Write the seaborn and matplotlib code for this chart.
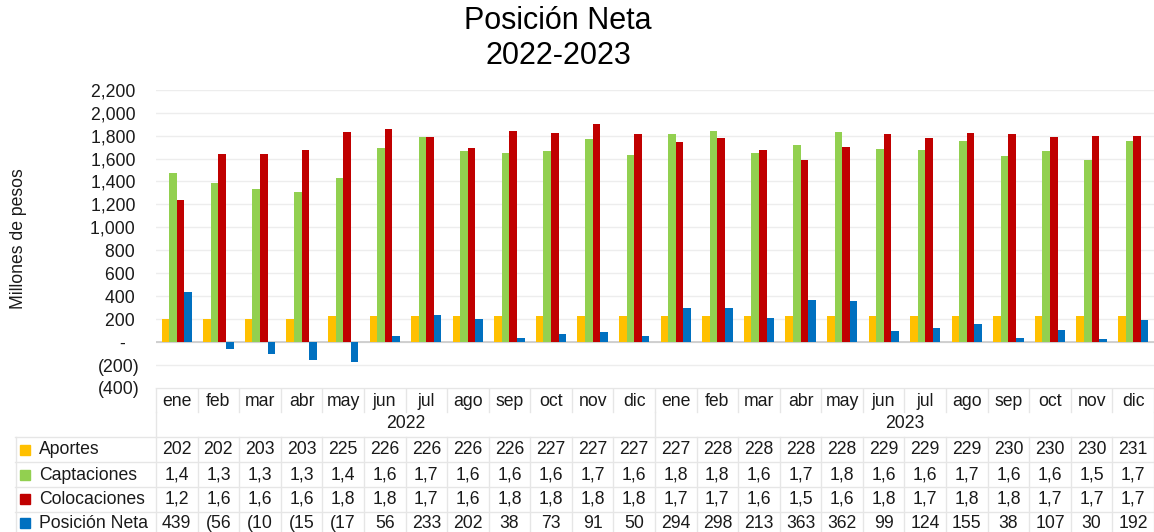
import numpy as np
import pandas as pd
import matplotlib
matplotlib.use("Agg")
import matplotlib.pyplot as plt
import matplotlib.transforms as mtransforms
import seaborn as sns

# ── Data ──────────────────────────────────────────────────────────────────────
months = ["ene", "feb", "mar", "abr", "may", "jun",
          "jul", "ago", "sep", "oct", "nov", "dic"] * 2
years = ["2022", "2023"]

aportes = [202, 202, 203, 203, 225, 226, 226, 226, 226, 227, 227, 227,
           227, 228, 228, 228, 228, 229, 229, 229, 230, 230, 230, 231]
captaciones = [1472, 1387, 1332, 1311, 1431, 1690, 1792, 1670, 1652, 1670, 1769, 1632,
               1813, 1842, 1650, 1717, 1830, 1682, 1676, 1752, 1621, 1664, 1591, 1757]
colocaciones = [1239, 1643, 1638, 1673, 1833, 1856, 1786, 1696, 1842, 1824, 1898, 1810,
                1743, 1775, 1673, 1586, 1699, 1810, 1781, 1824, 1818, 1786, 1795, 1795]
posicion_neta = [439, -56, -104, -157, -177, 56, 233, 202, 38, 73, 91, 50,
                 294, 298, 213, 363, 362, 99, 124, 155, 38, 107, 30, 192]

series_names = ["Aportes", "Captaciones", "Colocaciones", "Posición Neta"]
series_vals = [aportes, captaciones, colocaciones, posicion_neta]
colors = ["#FFC000", "#92D050", "#C00000", "#0070C0"]

# ── Long-form table ───────────────────────────────────────────────────────────
periods = [f"{m} {years[i // 12]}" for i, m in enumerate(months)]
df = pd.DataFrame({
    "periodo": np.tile(periods, len(series_names)),
    "serie":   np.repeat(series_names, len(periods)),
    "valor":   np.concatenate(series_vals),
})

W, H = 1154, 532
FS = 12.7
plt.rcParams["font.family"] = ["Liberation Sans", "DejaVu Sans"]
txt = "#1a1a1a"

fig = plt.figure(figsize=(W / 100, H / 100), dpi=100)
ax = fig.add_axes([156 / W, (H - 388) / H, (1154 - 156) / W, (388 - 89.7) / H])

sns.barplot(data=df, x="periodo", y="valor", hue="serie", order=periods,
            hue_order=series_names, palette=colors, width=0.73, gap=0,
            saturation=1, legend=False, ax=ax, zorder=3)

ax.set_ylim(-400, 2200)
ax.set_xlim(-0.5, len(periods) - 0.5)
yt = np.arange(-400, 2201, 200)
ax.set_yticks(yt)


def fmt_acct(v):
    # accounting-style labels: (neg), "-" for zero, trailing space for pos
    if v == 0:
        return "-   "
    if v < 0:
        return f"({abs(v):,})"
    return f"{v:,} "


ax.set_yticklabels([fmt_acct(v) for v in yt], fontsize=FS, color=txt)
ax.set_xticks([])
ax.set_xlabel("")
ax.set_ylabel("")
ax.tick_params(axis="y", length=0, pad=11.5)
for s in ax.spines.values():
    s.set_visible(False)
ax.grid(axis="y", color="#EDEDED", lw=1, zorder=0)
ax.axhline(0, color="#C9C9C9", lw=1.2, zorder=2)

# ── Overlay in pixel units for the data table ─────────────────────────────────
tab = fig.add_axes([0, 0, 1, 1], zorder=-1)
tab.set_xlim(0, W)
tab.set_ylim(H, 0)
tab.axis("off")
trans = mtransforms.blended_transform_factory(ax.transData, tab.transData)

grid_c = "#E6E6E6"
n = len(periods)
bounds = np.arange(n + 1) - 0.5

# category rows (months + years)
tab.plot([156, W], [388, 388], color=grid_c, lw=1)
for b in bounds:
    tab.plot([b, b], [388, 412], color=grid_c, lw=1, transform=trans)
for b in [bounds[0], bounds[12], bounds[-1]]:
    tab.plot([b, b], [412, 437], color=grid_c, lw=1, transform=trans)
for i, m in enumerate(months):
    tab.text(i, 401, m, ha="center", va="center", fontsize=FS, color=txt,
             transform=trans)
for k, y in enumerate(years):
    tab.text(5.5 + 12 * k, 424, y, ha="center", va="center", fontsize=FS,
             color=txt, transform=trans)

# legend/data rows
row_y = [450, 475, 499, 523]
for yl in [437, 462, 487, 512]:
    tab.plot([15, W], [yl, yl], color=grid_c, lw=1)
tab.plot([15.5, 15.5], [437, H], color=grid_c, lw=1)
for b in bounds:
    tab.plot([b, b], [437, H], color=grid_c, lw=1, transform=trans)


def cell_text(v):
    s = f"({abs(v):,})" if v < 0 else f"{v:,}"
    return s[:3]


for name, vals, col, y in zip(series_names, series_vals, colors, row_y):
    tab.plot([25], [y], marker="s", ms=7.2, color=col, ls="none")
    tab.text(39, y, name, ha="left", va="center", fontsize=FS, color=txt)
    for i, v in enumerate(vals):
        tab.text(i, y, cell_text(v), ha="center", va="center", fontsize=FS,
                 color=txt, transform=trans)

# ── Titles ────────────────────────────────────────────────────────────────────
fig.text(558 / W, 1 - 21 / H, "Posición Neta", ha="center", va="center",
         fontsize=22, color="black")
fig.text(558 / W, 1 - 56 / H, "2022-2023", ha="center", va="center",
         fontsize=22, color="black")
fig.text(19 / W, 1 - 239 / H, "Millones de pesos", rotation=90,
         ha="center", va="center", fontsize=FS, color=txt)

fig.savefig("out.png", dpi=100)
